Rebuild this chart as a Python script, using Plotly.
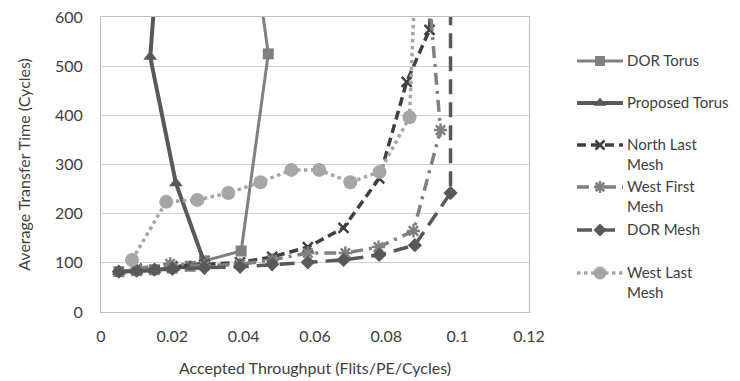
import plotly.graph_objects as go

# ---------------- data ----------------
dor_torus_x = [0.005, 0.01, 0.015, 0.02, 0.025, 0.029, 0.0393, 0.0469, 0.0436]
dor_torus_y = [82, 84, 86, 89, 93, 104, 124, 525, 700]

prop_torus_x = [0.005, 0.01, 0.015, 0.02, 0.025, 0.029, 0.021, 0.0138, 0.0157]
prop_torus_y = [82, 83, 85, 89, 93, 100, 262, 519, 700]

north_last_x = [0.01, 0.02, 0.029, 0.039, 0.048, 0.058, 0.068, 0.078, 0.0857, 0.0921, 0.0926]
north_last_y = [88, 93, 96, 101, 112, 132, 171, 272, 468, 574, 650]

west_first_x = [0.01, 0.0194, 0.029, 0.039, 0.048, 0.058, 0.0685, 0.0778, 0.0876, 0.0952, 0.0913]
west_first_y = [88, 98, 94, 97, 106, 120, 120, 132, 165, 370, 700]

dor_mesh_x = [0.005, 0.01, 0.015, 0.02, 0.029, 0.039, 0.048, 0.058, 0.068, 0.078, 0.088, 0.098, 0.098]
dor_mesh_y = [82, 84, 86, 88, 90, 92, 97, 101, 106, 116, 136, 242, 700]

west_last_x = [0.0087, 0.0183, 0.027, 0.0357, 0.0447, 0.0534, 0.0612, 0.0699, 0.0781, 0.0865, 0.0882]
west_last_y = [106, 224, 228, 242, 264, 289, 289, 264, 285, 396, 700]

x_ticks = [0, 0.02, 0.04, 0.06, 0.08, 0.1, 0.12]
x_tick_labels = ["0", "0.02", "0.04", "0.06", "0.08", "0.1", "0.12"]
y_ticks = [0, 100, 200, 300, 400, 500, 600]

series_names = ["DOR Torus", "Proposed Torus", "North Last<br>Mesh",
                "West First<br>Mesh", "DOR Mesh", "West Last<br>Mesh"]

# ---------------- styles ----------------
FONT = "Lato"
TXT = "#404040"
styles = [
    dict(color="#808080", width=3, dash="solid", symbol="square", size=11),
    dict(color="#595959", width=4, dash="solid", symbol="triangle-up", size=12),
    dict(color="#404040", width=3.5, dash="9px,5px", symbol="x-thin-open", size=10),
    dict(color="#808080", width=3.5, dash="12px,6px,3px,6px", symbol="asterisk-open", size=11),
    dict(color="#595959", width=3.5, dash="15px,8px", symbol="diamond", size=11),
    dict(color="#a6a6a6", width=3.5, dash="dot", symbol="circle", size=14),
]
data = [
    (dor_torus_x, dor_torus_y),
    (prop_torus_x, prop_torus_y),
    (north_last_x, north_last_y),
    (west_first_x, west_first_y),
    (dor_mesh_x, dor_mesh_y),
    (west_last_x, west_last_y),
]

fig = go.Figure()
for (xs, ys), st, nm in zip(data, styles, series_names):
    mline = dict(width=2.5, color=st["color"]) if "open" in st["symbol"] else dict(width=0)
    fig.add_trace(go.Scatter(
        x=xs, y=ys, mode="lines+markers", name=nm.replace("<br>", " "),
        showlegend=False,
        line=dict(color=st["color"], width=st["width"], dash=st["dash"]),
        marker=dict(symbol=st["symbol"], size=st["size"], color=st["color"], line=mline),
        xaxis="x", yaxis="y",
    ))

# ---------------- manual legend (overlay pixel axes) ----------------
W, H = 740, 381
legend_rows = [61, 103, 145, 187, 230, 273]
for i, (st, nm) in enumerate(zip(styles, series_names)):
    yy = legend_rows[i]
    mline = dict(width=2.5, color=st["color"]) if "open" in st["symbol"] else dict(width=0)
    fig.add_trace(go.Scatter(
        x=[577, 600, 623], y=[yy, yy, yy], mode="lines", showlegend=False,
        line=dict(color=st["color"], width=st["width"], dash=st["dash"]),
        hoverinfo="skip", xaxis="x2", yaxis="y2"))
    fig.add_trace(go.Scatter(
        x=[600], y=[yy], mode="markers", showlegend=False,
        marker=dict(symbol=st["symbol"], size=st["size"] - 1, color=st["color"], line=mline),
        hoverinfo="skip", xaxis="x2", yaxis="y2"))
    fig.add_annotation(x=626, y=yy - 11, xref="x2", yref="y2", text=nm,
                       showarrow=False, xanchor="left", yanchor="top", align="left",
                       borderpad=0,
                       font=dict(family=FONT, size=15, color=TXT))

L, R, T, B = 101, 529, 17, 312
fig.update_layout(
    width=W, height=H,
    margin=dict(l=0, r=0, t=0, b=0, autoexpand=False),
    paper_bgcolor="white", plot_bgcolor="rgba(0,0,0,0)",
    font=dict(family=FONT, size=16, color=TXT),
    showlegend=False,
    xaxis=dict(domain=[L / W, R / W], range=[0, 0.12], tickvals=x_ticks,
               ticktext=x_tick_labels, showgrid=False, zeroline=False,
               showline=True, linecolor="#bfbfbf", linewidth=1, mirror=True,
               ticks="", ticklabelstandoff=10, automargin=False,
               title=dict(text="Accepted Throughput (Flits/PE/Cycles)", standoff=18,
                          font=dict(family=FONT, size=16, color=TXT))),
    yaxis=dict(domain=[(H - B) / H, (H - T) / H], range=[0, 600], tickvals=y_ticks,
               showgrid=True, gridcolor="#d0d0d0", gridwidth=1, zeroline=False,
               showline=True, linecolor="#bfbfbf", linewidth=1, mirror=True,
               ticks="", ticklabelstandoff=14, automargin=False,
               title=dict(text="Average Transfer Time (Cycles)", standoff=20,
                          font=dict(family=FONT, size=16, color=TXT))),
    xaxis2=dict(domain=[0, 1], range=[0, W], visible=False, anchor="y2", fixedrange=True),
    yaxis2=dict(domain=[0, 1], range=[H, 0], visible=False, anchor="x2", fixedrange=True),
)

fig.write_html("out.html",
               config={"displayModeBar": False},
               post_script="document.body.style.margin='0';document.body.style.overflow='hidden';")
